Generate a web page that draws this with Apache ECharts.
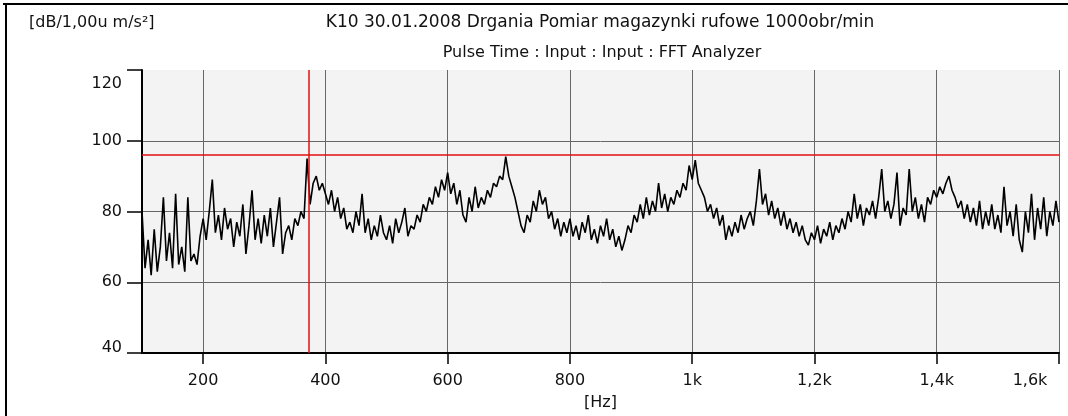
<!DOCTYPE html>
<html><head><meta charset="utf-8">
<script src="https://cdn.jsdelivr.net/npm/echarts@6/dist/echarts.min.js"></script>
<style>html,body{margin:0;padding:0;background:#fff}#c{width:1068px;height:416px}</style>
</head><body><div id="c"></div>
<script>
// ---- data ----
const titleLine1 = 'K10 30.01.2008 Drgania Pomiar magazynki rufowe 1000obr/min';
const titleLine2 = 'Pulse Time : Input : Input : FFT Analyzer';
const yUnitLabel = '[dB/1,00u m/s\u00b2]';
const xUnitLabel = '[Hz]';

const xMin = 100, xMax = 1600;
const yMin = 40, yMax = 120, yStep = 20;

const cursorHz = 372;   // red vertical cursor
const cursorDb = 96;    // red horizontal cursor

const freqHz = [
  100,105,110,115,120,125,130,135,140,145,150,155,160,165,170,175,180,185,190,195,
  200,205,210,215,220,225,230,235,240,245,250,255,260,265,270,275,280,285,290,295,
  300,305,310,315,320,325,330,335,340,345,350,355,360,365,370,375,380,385,390,395,
  400,405,410,415,420,425,430,435,440,445,450,455,460,465,470,475,480,485,490,495,
  500,505,510,515,520,525,530,535,540,545,550,555,560,565,570,575,580,585,590,595,
  600,605,610,615,620,625,630,635,640,645,650,655,660,665,670,675,680,685,690,695,
  700,705,710,715,720,725,730,735,740,745,750,755,760,765,770,775,780,785,790,795,
  800,805,810,815,820,825,830,835,840,845,850,855,860,865,870,875,880,885,890,895,
  900,905,910,915,920,925,930,935,940,945,950,955,960,965,970,975,980,985,990,995,
  1000,1005,1010,1015,1020,1025,1030,1035,1040,1045,1050,1055,1060,1065,1070,1075,1080,1085,1090,1095,
  1100,1105,1110,1115,1120,1125,1130,1135,1140,1145,1150,1155,1160,1165,1170,1175,1180,1185,1190,1195,
  1200,1205,1210,1215,1220,1225,1230,1235,1240,1245,1250,1255,1260,1265,1270,1275,1280,1285,1290,1295,
  1300,1305,1310,1315,1320,1325,1330,1335,1340,1345,1350,1355,1360,1365,1370,1375,1380,1385,1390,1395,
  1400,1405,1410,1415,1420,1425,1430,1435,1440,1445,1450,1455,1460,1465,1470,1475,1480,1485,1490,1495,
  1500,1505,1510,1515,1520,1525,1530,1535,1540,1545,1550,1555,1560,1565,1570,1575,1580,1585,1590,1595,1600
];

const levelDb = [
  80,64,72,62,75,63,70,84,66,74,64,85,65,70,63,84,66,68,65,73,
  78,72,80,89,74,79,72,81,75,78,70,77,73,82,68,76,86,72,78,71,
  79,73,81,70,77,84,68,74,76,72,78,76,80,78,95,82,88,90,86,88,
  85,82,86,80,84,78,81,75,77,74,80,76,85,74,78,72,76,73,79,74,
  72,76,71,78,74,77,81,73,76,75,79,77,82,80,84,82,87,84,89,86,
  91,85,88,82,86,79,77,84,80,87,81,84,82,86,84,88,87,90,89,95.5,
  90,87,84,80,76,74,79,77,83,80,86,82,84,78,80,75,78,73,77,74,
  78,73,76,72,77,74,79,72,75,71,76,73,78,72,75,70,73,69,72,76,
  74,79,77,82,78,84,79,83,80,88,81,85,80,84,82,86,84,88,86,93,
  89,94.5,88,86,84,80,82,78,81,76,79,72,76,73,77,74,79,75,78,80,
  76,83,92,82,85,79,83,78,81,76,80,75,78,74,77,73,76,72,70.5,74,
  72,76,71,75,73,77,72,76,74,78,75,80,77,85,78,82,76,81,79,83,
  78,84,92,80,83,78,82,91,76,81,79,92,80,84,78,82,77,84,82,86,
  84,87,85,88,90,86,84,81,83,78,82,77,81,76,83,75,80,76,82,75,
  79,74,87,76,80,73,82,72,68.5,80,74,85,72,81,75,84,73,80,76,83,77
];

// ---- chart ----
const FONT = 'DejaVu Sans';
const FS = 16;
const TXT = '#111';

const chart = echarts.init(document.getElementById('c'), null, {renderer: 'canvas'});

function xFmt(v) {
  if (v >= 1000) {
    const s = String(v / 1000).replace('.', ',') + 'k';
    return v === xMax ? '{last|' + s + '}' : s;
  }
  return String(v);
}
function yFmt(v) {
  if (v === yMax) return '{top|' + v + '}';
  if (v === yMin) return '{bot|' + v + '}';
  return String(v);
}
const richBase = {fontFamily: FONT, fontSize: FS, color: TXT};

chart.setOption({
  animation: false,
  backgroundColor: '#ffffff',
  grid: {left: 142, right: 9, top: 70, bottom: 57, show: true, backgroundColor: '#f3f3f3', borderWidth: 0},
  graphic: [
    {type: 'line', shape: {x1: 3, y1: 4, x2: 1068, y2: 4}, style: {stroke: '#000', lineWidth: 2}, silent: true},
    {type: 'line', shape: {x1: 6, y1: 3, x2: 6, y2: 416}, style: {stroke: '#000', lineWidth: 2}, silent: true},
    {type: 'text', x: 29, y: 23, style: {text: yUnitLabel, align: 'left', verticalAlign: 'middle', fontFamily: FONT, fontSize: FS, fill: TXT}},
    {type: 'text', x: 600, y: 23, style: {text: titleLine1, align: 'center', verticalAlign: 'middle', fontFamily: FONT, fontSize: 17, fill: TXT}},
    {type: 'text', x: 602, y: 53, style: {text: titleLine2, align: 'center', verticalAlign: 'middle', fontFamily: FONT, fontSize: FS, fill: TXT}}
  ],
  xAxis: {
    type: 'value', min: xMin, max: xMax, splitNumber: 7,
    axisLine: {lineStyle: {color: '#000', width: 2}},
    axisTick: {show: true, length: 11, lineStyle: {color: '#000', width: 1.5}},
    splitLine: {show: true, lineStyle: {color: '#666', width: 1}},
    axisLabel: {
      showMinLabel: false, margin: 20, formatter: xFmt,
      fontFamily: FONT, fontSize: FS, color: TXT,
      rich: {last: Object.assign({padding: [0, 58, 0, 0]}, richBase)}
    },
    name: xUnitLabel, nameLocation: 'middle', nameGap: 42,
    nameTextStyle: {fontFamily: FONT, fontSize: FS, color: TXT}
  },
  yAxis: {
    type: 'value', min: yMin, max: yMax, interval: yStep,
    axisLine: {show: true, lineStyle: {color: '#000', width: 2}},
    axisTick: {show: true, length: 15, lineStyle: {color: '#000', width: 1.5}},
    splitLine: {show: true, showMaxLine: false, lineStyle: {color: '#666', width: 1}},
    axisLabel: {
      margin: 20, formatter: yFmt,
      fontFamily: FONT, fontSize: FS, color: TXT,
      rich: {
        top: Object.assign({padding: [27, 0, 0, 0]}, richBase),
        bot: Object.assign({padding: [0, 0, 10, 0]}, richBase)
      }
    }
  },
  series: [{
    type: 'line',
    data: freqHz.map((f, i) => [f, levelDb[i]]),
    showSymbol: false,
    lineStyle: {color: '#000', width: 1.6},
    z: 3,
    markLine: {
      silent: true, symbol: 'none', animation: false,
      label: {show: false},
      lineStyle: {color: '#e01010', width: 1.5, type: 'solid'},
      data: [{xAxis: cursorHz}, {yAxis: cursorDb}]
    }
  }]
});
</script></body></html>
